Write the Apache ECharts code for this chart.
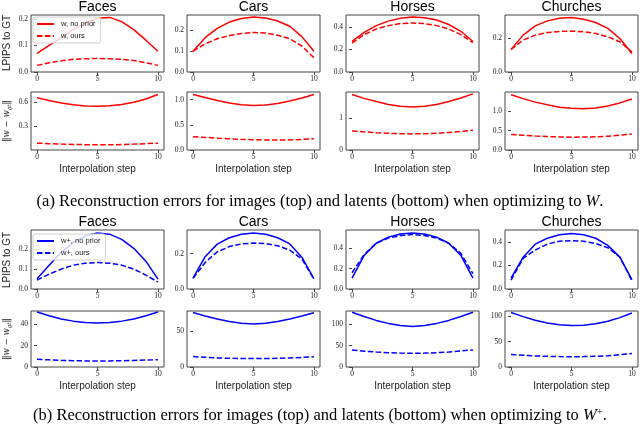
<!DOCTYPE html>
<html>
<head>
<meta charset="utf-8">
<script src="https://cdn.jsdelivr.net/npm/echarts@6/dist/echarts.min.js"></script>
<style>
  html, body { margin: 0; padding: 0; background: #fff; }
  #chart { width: 640px; height: 425px; }
</style>
</head>
<body>
<div id="chart"></div>
<script>
// data
const steps = [0, 1, 2, 3, 4, 5, 6, 7, 8, 9, 10];
const datasets = ['Faces', 'Cars', 'Horses', 'Churches'];
const xTicks = [0, 5, 10];

// (a) optimizing to W : LPIPS to GT (top row)
const aImgNoPrior = [
  [0.07, 0.10, 0.13, 0.16, 0.185, 0.203, 0.206, 0.19, 0.16, 0.12, 0.078],
  [0.10, 0.165, 0.21, 0.24, 0.257, 0.264, 0.26, 0.245, 0.22, 0.17, 0.10],
  [0.27, 0.35, 0.41, 0.45, 0.475, 0.487, 0.48, 0.46, 0.42, 0.36, 0.27],
  [0.135, 0.22, 0.275, 0.305, 0.32, 0.325, 0.315, 0.295, 0.26, 0.20, 0.11]
];
const aImgOurs = [
  [0.025, 0.035, 0.042, 0.048, 0.05, 0.051, 0.05, 0.048, 0.043, 0.035, 0.025],
  [0.10, 0.135, 0.16, 0.175, 0.185, 0.19, 0.187, 0.177, 0.16, 0.125, 0.068],
  [0.255, 0.33, 0.38, 0.41, 0.428, 0.433, 0.428, 0.41, 0.38, 0.33, 0.26],
  [0.135, 0.19, 0.22, 0.235, 0.242, 0.244, 0.24, 0.23, 0.21, 0.18, 0.12]
];
// (a) latent distance (bottom row)
const aLatNoPrior = [
  [0.65, 0.615, 0.585, 0.563, 0.55, 0.547, 0.552, 0.568, 0.595, 0.635, 0.69],
  [1.10, 1.04, 0.98, 0.93, 0.895, 0.88, 0.89, 0.92, 0.97, 1.03, 1.10],
  [1.74, 1.62, 1.52, 1.43, 1.37, 1.35, 1.37, 1.43, 1.52, 1.63, 1.76],
  [1.42, 1.32, 1.23, 1.16, 1.10, 1.07, 1.06, 1.08, 1.13, 1.21, 1.31]
];
const aLatOurs = [
  [0.094, 0.088, 0.082, 0.078, 0.075, 0.073, 0.074, 0.077, 0.082, 0.088, 0.094],
  [0.265, 0.25, 0.235, 0.222, 0.212, 0.205, 0.20, 0.197, 0.20, 0.21, 0.225],
  [0.60, 0.57, 0.545, 0.525, 0.51, 0.505, 0.51, 0.525, 0.55, 0.58, 0.62],
  [0.40, 0.38, 0.36, 0.345, 0.335, 0.33, 0.333, 0.34, 0.355, 0.38, 0.41]
];

// (b) optimizing to W+ : LPIPS to GT
const bImgNoPrior = [
  [0.051, 0.12, 0.185, 0.235, 0.268, 0.282, 0.276, 0.25, 0.205, 0.14, 0.05],
  [0.062, 0.183, 0.254, 0.29, 0.31, 0.317, 0.31, 0.29, 0.255, 0.18, 0.058],
  [0.107, 0.33, 0.45, 0.51, 0.54, 0.55, 0.54, 0.51, 0.45, 0.33, 0.107],
  [0.092, 0.27, 0.38, 0.43, 0.46, 0.47, 0.46, 0.43, 0.37, 0.27, 0.08]
];
const bImgOurs = [
  [0.045, 0.075, 0.10, 0.12, 0.13, 0.133, 0.13, 0.12, 0.10, 0.07, 0.035],
  [0.06, 0.15, 0.21, 0.24, 0.255, 0.26, 0.257, 0.245, 0.22, 0.17, 0.055],
  [0.16, 0.34, 0.45, 0.50, 0.525, 0.535, 0.525, 0.50, 0.45, 0.35, 0.15],
  [0.075, 0.26, 0.33, 0.38, 0.405, 0.41, 0.405, 0.385, 0.35, 0.27, 0.07]
];
// (b) latent distance
const bLatNoPrior = [
  [51.5, 48, 45, 43, 41.8, 41.3, 41.8, 43, 45, 48, 51.5],
  [76, 71, 67, 63.5, 61, 60, 61, 63.5, 67, 71, 75.5],
  [128, 118, 109, 102, 97, 95, 97, 102, 109, 118, 128],
  [107, 99, 92, 86.5, 83, 81.5, 82, 85, 90, 97, 106]
];
const bLatOurs = [
  [7.2, 6.7, 6.2, 5.9, 5.7, 5.6, 5.7, 5.9, 6.2, 6.5, 6.8],
  [14.5, 13.5, 12.7, 12.1, 11.8, 11.7, 11.8, 12.1, 12.6, 13.3, 14.2],
  [40, 37, 35, 33.5, 32.5, 32, 32.5, 33.5, 35, 37.5, 40],
  [24.5, 23, 21.8, 21, 20.4, 20.2, 20.4, 21, 22, 24, 26.5]
];

// y tick labels per panel
const aImgTicks = [[0, 0.1, 0.2], [0, 0.1, 0.2], [0, 0.2, 0.4], [0, 0.2]];
const aLatTicks = [[0.3, 0.6], [0, 0.5, 1.0], [0, 1], [0, 0.5, 1.0]];
const bImgTicks = [[0, 0.1, 0.2], [0, 0.2], [0, 0.2, 0.4], [0, 0.2, 0.4]];
const bLatTicks = [[0, 20, 40], [0, 50], [0, 50, 100], [0, 50, 100]];
const aLatDecimals = [1, 1, 0, 1];

// axis limits
const aImgRange = [[0, 0.215], [0, 0.274], [0, 0.504], [0, 0.34]];
const aLatRange = [[0.01, 0.72], [0, 1.15], [0, 1.82], [0, 1.49]];
const bImgRange = [[0, 0.297], [0, 0.334], [0, 0.58], [0, 0.5]];
const bLatRange = [[0, 52.5], [0, 78], [0, 131], [0, 110]];

const RED = '#ff0000', BLUE = '#0000ff';
const colLeft = [31, 187, 346, 505];
const colWidth = 133;
const rows = [
  { top: 15, height: 57 },   // (a) top
  { top: 92, height: 58 },   // (a) bottom
  { top: 230, height: 59 },  // (b) top
  { top: 311, height: 56 }   // (b) bottom
];

const panelRows = [
  { solid: aImgNoPrior, dash: aImgOurs, ticks: aImgTicks, range: aImgRange, dec: [1, 1, 1, 1], color: RED, names: ['w, no prior', 'w, ours'] },
  { solid: aLatNoPrior, dash: aLatOurs, ticks: aLatTicks, range: aLatRange, dec: aLatDecimals, color: RED, names: ['w, no prior', 'w, ours'] },
  { solid: bImgNoPrior, dash: bImgOurs, ticks: bImgTicks, range: bImgRange, dec: [1, 1, 1, 1], color: BLUE, names: ['w+, no prior', 'w+, ours'] },
  { solid: bLatNoPrior, dash: bLatOurs, ticks: bLatTicks, range: bLatRange, dec: [0, 0, 0, 0], color: BLUE, names: ['w+, no prior', 'w+, ours'] }
];

const tickFont = { fontFamily: 'Liberation Serif', fontSize: 7.5, color: '#222' };
const frame = '#444';

let grid = [], xAxis = [], yAxis = [], series = [];
function pts(ys) { return steps.map((s, i) => [s, ys[i]]); }

panelRows.forEach((pr, r) => {
  for (let c = 0; c < 4; c++) {
    const idx = grid.length;
    grid.push({
      left: colLeft[c], top: rows[r].top, width: colWidth, height: rows[r].height,
      show: true, borderColor: frame, borderWidth: 1, backgroundColor: 'transparent'
    });
    xAxis.push({
      type: 'value', gridIndex: idx, min: -0.5, max: 10.5,
      axisLine: { show: false },
      axisTick: { show: true, length: 3, customValues: xTicks, lineStyle: { color: frame } },
      axisLabel: Object.assign({ margin: 3, customValues: xTicks }, tickFont),
      splitLine: { show: false }
    });
    const d = pr.dec[c];
    yAxis.push({
      type: 'value', gridIndex: idx, min: pr.range[c][0], max: pr.range[c][1],
      axisLine: { show: false },
      axisTick: { show: true, length: 3, customValues: pr.ticks[c], lineStyle: { color: frame } },
      axisLabel: Object.assign({ margin: 3, customValues: pr.ticks[c], formatter: v => Number(v).toFixed(d) }, tickFont),
      splitLine: { show: false }
    });
    series.push({
      name: pr.names[0], type: 'line', xAxisIndex: idx, yAxisIndex: idx,
      data: pts(pr.solid[c]), symbol: 'none', silent: true,
      lineStyle: { color: pr.color, width: 1.5 }, itemStyle: { color: pr.color }
    });
    series.push({
      name: pr.names[1], type: 'line', xAxisIndex: idx, yAxisIndex: idx,
      data: pts(pr.dash[c]), symbol: 'none', silent: true,
      lineStyle: { color: pr.color, width: 1.5, type: [5.5, 2.4] }, itemStyle: { color: pr.color }
    });
  }
});

function legendAt(top, names) {
  return {
    data: names, orient: 'vertical', left: 33, top: top,
    itemWidth: 17, itemHeight: 6, itemGap: 4, padding: [3, 5, 3, 3],
    itemStyle: { opacity: 0 },
    backgroundColor: 'rgba(255,255,255,0.8)', borderColor: '#d0d0d0', borderWidth: 1, borderRadius: 2,
    textStyle: { fontFamily: 'Liberation Sans', fontSize: 7.5, color: '#222', padding: [0, 0, 0, 2] },
    selectedMode: false
  };
}

const sans = 'Liberation Sans';
let graphic = [];
const titleY = [7, 222];
const xLabelY = [169, 386];
const yLabelLpips = [43, 260];
const yLabelDist = [121, 339];
[0, 1].forEach(g => {
  datasets.forEach((name, c) => {
    const cx = colLeft[c] + colWidth / 2;
    graphic.push({ type: 'text', x: cx, y: titleY[g],
      style: { text: name, align: 'center', verticalAlign: 'middle', font: '14px ' + sans, fill: '#000' } });
    graphic.push({ type: 'text', x: cx, y: xLabelY[g],
      style: { text: 'Interpolation step', align: 'center', verticalAlign: 'middle', font: '10px ' + sans, fill: '#222' } });
  });
  graphic.push({ type: 'text', x: 7, y: yLabelLpips[g], rotation: Math.PI / 2,
    style: { text: 'LPIPS to GT', align: 'center', verticalAlign: 'middle', font: '10px ' + sans, fill: '#222' } });
  graphic.push({ type: 'text', x: 7, y: yLabelDist[g], rotation: Math.PI / 2,
    style: {
      text: '{n|‖w − w}{s|gt}{n|‖}', align: 'center', verticalAlign: 'middle',
      rich: {
        n: { fontFamily: 'DejaVu Serif', fontStyle: 'italic', fontSize: 8.5, fill: '#222' },
        s: { fontFamily: 'DejaVu Serif', fontStyle: 'italic', fontSize: 5.5, fill: '#222', padding: [5, 0, 0, 0] }
      }
    } });
});
graphic.push({ type: 'text', x: 320, y: 202,
  style: { text: '(a) Reconstruction errors for images (top) and latents (bottom) when optimizing to {i|W}.',
    align: 'center', verticalAlign: 'middle', font: '16.5px Liberation Serif', fill: '#000',
    rich: { i: { fontFamily: 'Liberation Serif', fontStyle: 'italic', fontSize: 16.5, fill: '#000' } } } });
graphic.push({ type: 'text', x: 320, y: 416,
  style: { text: '(b) Reconstruction errors for images (top) and latents (bottom) when optimizing to {i|W}{p|+}.',
    align: 'center', verticalAlign: 'middle', font: '16.5px Liberation Serif', fill: '#000',
    rich: {
      i: { fontFamily: 'Liberation Serif', fontStyle: 'italic', fontSize: 16.5, fill: '#000' },
      p: { fontFamily: 'Liberation Serif', fontSize: 11, fill: '#000', padding: [0, 0, 8, 0] }
    } } });

const chart = echarts.init(document.getElementById('chart'));
chart.setOption({
  animation: false,
  grid: grid, xAxis: xAxis, yAxis: yAxis, series: series,
  legend: [legendAt(17, ['w, no prior', 'w, ours']), legendAt(234, ['w+, no prior', 'w+, ours'])],
  graphic: graphic
});
</script>
</body>
</html>
